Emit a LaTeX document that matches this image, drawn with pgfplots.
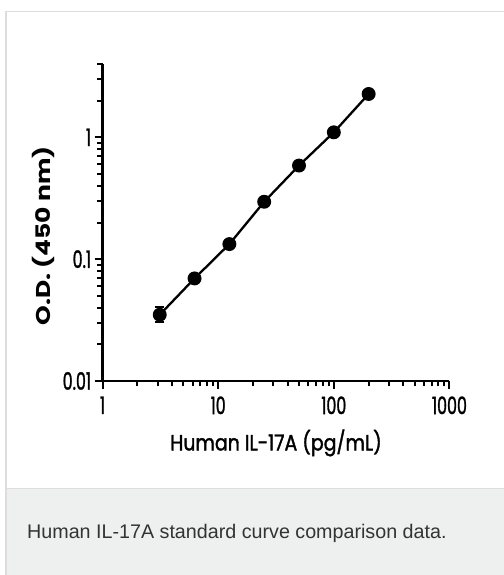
\documentclass[border=0pt]{standalone}
\usepackage{fontspec}
\usepackage{pgfplots}
\pgfplotsset{compat=1.18}
\setmainfont{Liberation Sans}
\newfontfamily\tickfont[FakeStretch=0.66, FakeBold=1.2]{Poppins}
\newfontfamily\xlabfont[FakeStretch=0.86, FakeBold=1.6]{Poppins}
\newfontfamily\ylabfont[FakeStretch=1.25]{Poppins}
\definecolor{bordergrey}{HTML}{DDDDDD}
\definecolor{capbg}{HTML}{EEEFEF}
\definecolor{captext}{HTML}{333333}
\begin{document}
\begin{tikzpicture}
\useasboundingbox (0bp,0bp) rectangle (504bp,575bp);
\clip (0bp,0bp) rectangle (504bp,575bp);
\fill[white] (0bp,0bp) rectangle (504bp,575bp);
\draw[bordergrey, line width=1.5bp, fill=white] (5.75bp,-10bp) rectangle (520bp,563.25bp);
\fill[capbg] (6.5bp,-10bp) rectangle (520bp,86bp);
\draw[bordergrey, line width=1bp] (6.5bp,86.5bp) -- (520bp,86.5bp);
\node[anchor=west, text=captext, font=\fontsize{19.7bp}{22bp}\selectfont, inner sep=0pt] at (27bp,42bp) {Human IL-17A standard curve comparison data.};
\begin{axis}[
  at={(102.5bp,194bp)}, anchor=south west,
  scale only axis, width=347bp, height=317bp,
  xmode=log, ymode=log,
  xmin=1, xmax=1000, ymin=0.01, ymax=4,
  axis x line*=bottom, axis y line*=left,
  axis line style={line width=2.5bp, black},
  tick align=outside,
  major tick length=8bp, minor tick length=5.5bp,
  every tick/.style={line width=2bp, black},
  xtick={1,10,100,1000}, xticklabels={1,10,100,1000},
  ytick={0.01,0.1,1}, yticklabels={0.01,0.1,1},
  minor xtick={2,3,4,5,6,7,8,9,20,30,40,50,60,70,80,90,200,300,400,500,600,700,800,900},
  minor ytick={0.02,0.03,0.04,0.05,0.06,0.07,0.08,0.09,0.2,0.3,0.4,0.5,0.6,0.7,0.8,0.9,2,3,4},
  ticklabel style={font=\tickfont\fontsize{24bp}{26bp}\selectfont},
  xticklabel style={yshift=-4bp},
  yticklabel style={xshift=0bp},
  xlabel={\xlabfont\fontsize{22bp}{26bp}\selectfont Human IL-17A (pg/mL)},
  xlabel style={at={(axis description cs:0.5,0)}, anchor=center, yshift=-62bp},
  clip=false,
]
\addplot[black, line width=2.3bp, mark=*, mark size=5.8bp,
  error bars/.cd, y dir=both, y explicit,
  error bar style={line width=2.2bp}, error mark options={rotate=90, mark size=4.5bp, line width=2.2bp}]
  table[x=x, y=y, y error plus=ep, y error minus=em] {
  x      y      ep     em
  3.125  0.035  0.0055 0.0045
  6.25   0.0695 0      0
  12.5   0.133  0      0
  25     0.296  0      0
  50     0.587  0      0
  100    1.10   0      0
  200    2.27   0      0
};
\end{axis}
\node[rotate=90, font=\ylabfont\bfseries\fontsize{20bp}{24bp}\selectfont] at (43bp,339bp) {O.D. (450 nm)};
\end{tikzpicture}
\end{document}
